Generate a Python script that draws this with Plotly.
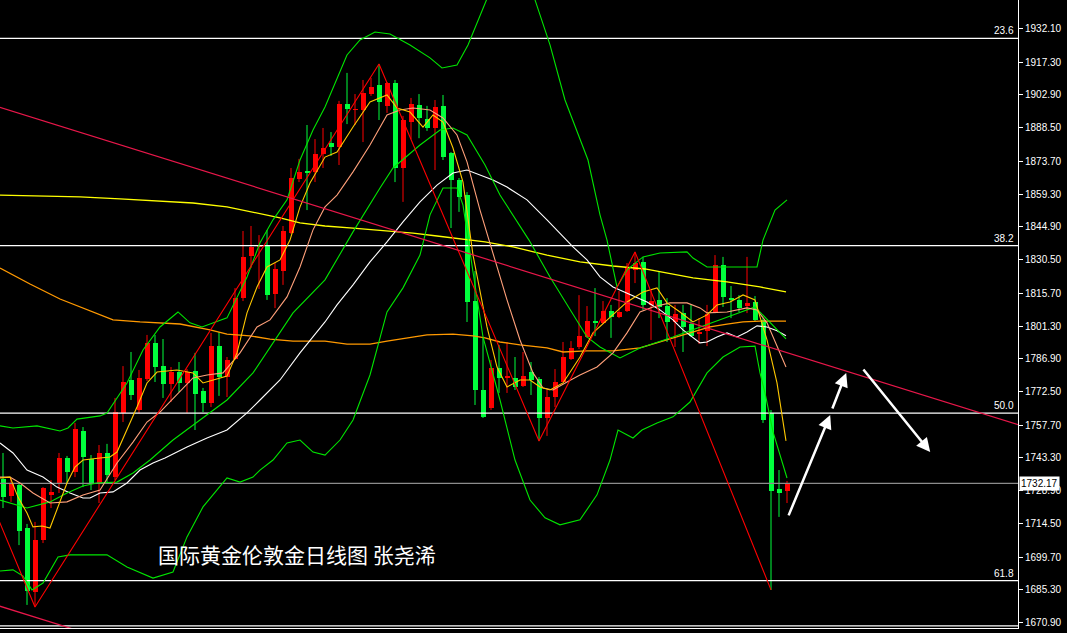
import plotly.graph_objects as go

# ---------------- candle data (daily gold, 99 bars) ----------------
opens = [1734.1, 1726.6, 1731.4, 1712.5, 1684.4, 1707.2, 1727.0, 1732.3, 1743.3, 1737.1,
         1755.2, 1742.9, 1732.3, 1745.5, 1734.9, 1763.1, 1777.6, 1764.4, 1778.0, 1793.9,
         1783.7, 1775.8, 1781.1, 1776.3, 1781.5, 1772.8, 1767.5, 1792.5, 1778.9, 1786.8,
         1813.6, 1832.1, 1836.1, 1836.5, 1815.4, 1825.5, 1842.2, 1866.0, 1869.5, 1869.0,
         1876.9, 1881.8, 1880.0, 1898.9, 1896.3, 1896.3, 1903.3, 1907.3, 1898.1, 1908.2,
         1870.8, 1891.0, 1898.5, 1892.3, 1888.4, 1898.1, 1877.4, 1865.5, 1858.9, 1812.3,
         1773.2, 1765.3, 1782.9, 1778.5, 1778.5, 1774.9, 1781.1, 1778.0, 1760.9, 1770.1,
         1776.7, 1786.8, 1792.1, 1796.5, 1803.1, 1802.7, 1807.9, 1805.3, 1807.9, 1825.9,
         1829.5, 1810.6, 1812.8, 1810.1, 1803.1, 1807.0, 1802.2, 1797.8, 1799.1, 1807.5,
         1828.1, 1813.6, 1812.8, 1810.1, 1811.9, 1803.9, 1763.1, 1729.7, 1728.8]
highs = [1745.5, 1734.5, 1732.7, 1714.3, 1715.2, 1730.5, 1733.6, 1745.5, 1744.2, 1758.7,
         1756.9, 1744.6, 1749.0, 1749.5, 1769.7, 1783.7, 1789.9, 1782.0, 1797.4, 1797.4,
         1795.6, 1783.3, 1785.5, 1782.4, 1789.5, 1774.1, 1798.3, 1798.7, 1787.7, 1818.0,
         1843.1, 1845.3, 1841.3, 1843.5, 1829.0, 1845.3, 1870.8, 1874.8, 1889.7, 1883.5,
         1888.4, 1886.6, 1900.3, 1912.6, 1903.3, 1909.5, 1910.4, 1916.5, 1908.6, 1909.5,
         1893.7, 1901.6, 1903.3, 1898.1, 1900.7, 1902.9, 1877.8, 1866.4, 1860.2, 1825.5,
         1796.5, 1786.4, 1793.0, 1794.3, 1787.7, 1789.9, 1785.5, 1778.9, 1773.2, 1782.4,
         1794.3, 1794.7, 1814.9, 1810.1, 1818.0, 1812.3, 1810.6, 1816.7, 1829.0, 1833.9,
         1831.7, 1817.2, 1825.1, 1813.6, 1810.6, 1810.6, 1810.6, 1804.8, 1810.6, 1832.5,
         1831.7, 1818.9, 1814.9, 1831.7, 1814.5, 1804.8, 1764.4, 1738.0, 1733.2]
lows = [1721.3, 1724.0, 1705.0, 1678.7, 1677.8, 1705.9, 1721.3, 1727.9, 1732.3, 1734.9,
        1730.5, 1729.2, 1723.5, 1732.3, 1733.6, 1759.1, 1768.8, 1763.1, 1777.1, 1776.7,
        1769.7, 1767.9, 1772.3, 1763.1, 1755.6, 1763.5, 1765.7, 1770.6, 1770.1, 1786.4,
        1812.3, 1826.8, 1817.6, 1812.8, 1809.2, 1819.4, 1841.8, 1864.6, 1852.3, 1864.6,
        1870.8, 1876.1, 1872.1, 1890.1, 1889.7, 1882.2, 1902.5, 1891.9, 1895.0, 1864.6,
        1855.9, 1883.5, 1883.9, 1887.1, 1869.9, 1874.3, 1844.4, 1851.5, 1803.1, 1766.6,
        1760.9, 1764.4, 1771.9, 1771.9, 1773.2, 1774.5, 1771.0, 1750.8, 1753.0, 1765.7,
        1776.7, 1786.4, 1791.2, 1796.1, 1796.9, 1802.2, 1796.1, 1804.8, 1807.5, 1820.2,
        1808.4, 1795.2, 1804.8, 1794.3, 1792.1, 1789.9, 1796.5, 1793.4, 1792.5, 1807.0,
        1809.7, 1804.8, 1807.5, 1807.0, 1803.5, 1758.7, 1685.3, 1717.4, 1723.5]
closes = [1726.1, 1732.3, 1711.2, 1684.8, 1707.2, 1730.1, 1728.3, 1743.3, 1737.1, 1756.0,
          1743.7, 1732.3, 1745.5, 1735.8, 1763.5, 1776.7, 1771.0, 1778.5, 1793.9, 1783.3,
          1775.8, 1781.1, 1776.3, 1781.1, 1771.4, 1767.5, 1792.5, 1778.9, 1786.4, 1813.6,
          1831.7, 1836.1, 1836.9, 1815.0, 1826.4, 1843.1, 1866.4, 1869.0, 1868.6, 1876.9,
          1879.6, 1880.0, 1898.9, 1896.7, 1896.7, 1903.8, 1906.4, 1899.8, 1908.2, 1870.8,
          1891.9, 1898.9, 1892.8, 1888.4, 1897.6, 1875.6, 1865.5, 1858.0, 1811.9, 1773.2,
          1761.3, 1782.9, 1778.5, 1779.3, 1774.5, 1779.3, 1777.6, 1760.9, 1770.1, 1776.7,
          1787.7, 1791.7, 1796.9, 1803.5, 1802.7, 1807.9, 1805.3, 1807.5, 1826.8, 1829.0,
          1810.6, 1812.3, 1809.7, 1803.1, 1806.6, 1800.9, 1796.9, 1798.7, 1806.6, 1828.1,
          1814.1, 1812.8, 1809.2, 1811.4, 1803.9, 1760.0, 1728.8, 1727.9, 1732.17]

# ---------------- indicator lines (bar index, price) ----------------
bb_up_idx = [-0.375, 1.25, 4.25, 7.125, 8.125, 9.25, 12.125, 13, 15.5, 17.5, 19.625, 21.875, 23.375, 24.875,
             28, 30.5, 32.125, 33.75, 35.5, 37.125, 38.75, 40.25, 43, 44.625, 46.5, 48.375, 50.875, 53.375,
             54.875, 56.75, 58.125, 59.375, 60.875, 62.75, 64.625, 66.5, 68.375, 70.25, 73.125, 74.625, 75.5,
             76.75, 78, 80, 82.125, 85.5, 86.25, 88, 94.25, 95, 96.5, 98]
bb_up_val = [1757.4, 1756.5, 1757.4, 1755.2, 1756.5, 1760.4, 1761.8, 1763.1, 1776.3, 1790.8, 1800.9, 1807.5,
             1802.7, 1800.9, 1804.9, 1822.9, 1837.9, 1848.0, 1856.8, 1874.3, 1887.5, 1897.6, 1920.5, 1927.1,
             1930.6, 1929.7, 1924.9, 1919.2, 1914.8, 1916.1, 1924.9, 1935.9, 1949.1, 1964.5, 1962.3, 1944.7,
             1924.9, 1900.7, 1874.3, 1850.2, 1839.1, 1818.5, 1826.0, 1831.7, 1833.4, 1833.9, 1831.2, 1827.3,
             1827.3, 1839.1, 1852.3, 1856.8]
bb_mid_idx = [-0.375, 3, 5.875, 8, 10, 11.75, 14.25, 16.25, 18.375, 21.25, 24.625, 28, 31.25, 33.75, 36.25,
              40.25, 43.75, 47.125, 48.75, 52.125, 54.625, 56.25, 58, 60.25, 62.125, 65.75, 68.375, 73,
              74.625, 77.125, 79.625, 83.75, 88, 91.25, 94, 96.25, 97.875]
bb_mid_val = [1724.8, 1721.3, 1724.0, 1727.9, 1731.0, 1732.3, 1732.7, 1736.7, 1742.4, 1751.2, 1760.0, 1768.8,
              1780.7, 1793.9, 1807.1, 1821.6, 1842.7, 1862.0, 1870.8, 1880.9, 1887.5, 1888.4, 1885.3, 1872.1,
              1858.9, 1839.1, 1822.9, 1796.5, 1792.1, 1787.3, 1791.7, 1796.5, 1801.8, 1806.2, 1809.7, 1801.8,
              1795.7]
bb_low_idx = [-0.375, 1.25, 2.5, 3.625, 5, 6.875, 8.375, 13, 15.5, 18.75, 21.25, 23, 25, 28, 29.625, 31.25,
              32.125, 33.75, 35.5, 37.125, 38.75, 40.25, 42.125, 43.75, 45.875, 48, 50, 52.125, 53.375, 55,
              56.75, 57.5, 58.75, 60, 62.125, 64, 65.875, 67.75, 69.625, 72.125, 74.25, 75.875, 76.875,
              78.75, 79.875, 81.75, 83.75, 85.875, 88, 90, 92.125, 94, 94.625, 95.25, 96.25, 98]
bb_low_val = [1693.6, 1694.1, 1691.4, 1685.3, 1688.3, 1699.8, 1700.7, 1700.7, 1695.4, 1690.5, 1693.2, 1708.6,
              1721.8, 1734.5, 1732.7, 1734.9, 1738.0, 1742.4, 1749.9, 1751.2, 1745.9, 1744.6, 1751.2, 1760.0,
              1779.8, 1807.5, 1818.1, 1832.5, 1850.2, 1862.0, 1862.0, 1854.5, 1825.1, 1796.5, 1768.8, 1742.4,
              1724.8, 1717.0, 1713.9, 1716.1, 1727.1, 1742.4, 1755.6, 1752.1, 1755.6, 1758.7, 1761.4, 1767.9,
              1780.7, 1787.7, 1792.1, 1792.5, 1780.7, 1771.9, 1754.8, 1734.5]
ma5_idx = [-0.375, 0.875, 1.875, 3, 3.75, 4.875, 5.875, 6.875, 8, 9, 10, 12.125, 13.375, 14.25, 15.5, 16.75,
           18, 19.25, 21.75, 23.75, 25, 28, 29.25, 30.5, 31.75, 33, 34.625, 35.875, 37.125, 38.375, 40.25,
           41.75, 43.75, 45.875, 48, 49.25, 50.875, 52.5, 53.75, 55, 56.25, 57.5, 58.75, 60.5, 61.75, 63,
           64.625, 65.875, 67.125, 68.375, 70, 72.125, 73.75, 75.875, 78, 80, 81.75, 83, 84.625, 86.25, 88,
           89.25, 90.875, 92.5, 94, 94.625, 95.5, 96.75, 97.875]
ma5_val = [1734.5, 1734.9, 1726.1, 1719.1, 1713.0, 1713.4, 1712.5, 1721.8, 1732.3, 1739.3, 1742.4, 1743.3,
           1743.7, 1745.9, 1755.6, 1765.7, 1776.3, 1781.1, 1782.0, 1780.7, 1776.3, 1779.3, 1789.5, 1807.1,
           1818.5, 1827.3, 1830.4, 1839.1, 1853.7, 1864.2, 1875.6, 1877.8, 1888.8, 1899.8, 1902.9, 1897.2,
           1895.4, 1888.8, 1894.1, 1891.0, 1879.6, 1864.6, 1832.5, 1800.9, 1783.3, 1774.5, 1777.6, 1777.6,
           1774.5, 1773.2, 1776.3, 1787.7, 1798.3, 1805.3, 1811.9, 1816.3, 1818.1, 1811.5, 1807.5, 1803.1,
           1806.2, 1810.6, 1811.9, 1815.0, 1812.8, 1805.3, 1795.2, 1776.3, 1750.8]
ma10_idx = [-0.375, 0.875, 2.125, 3.75, 5.875, 8, 10, 12.125, 14.25, 16.25, 18, 19.625, 23.75, 25.5, 27.5,
            29.625, 31.75, 33.375, 35.5, 37.125, 38.75, 40.25, 41.75, 43.75, 45.875, 48, 49.625, 51.25,
            53.375, 55, 56.75, 58, 59.625, 61.25, 63, 64.625, 66.25, 67.5, 68.75, 70.5, 72.125, 74.25,
            76.25, 78, 79.625, 81.25, 83.375, 85.5, 87.125, 88, 90.5, 93, 94.25, 95.5, 96.75, 97.875]
ma10_val = [1734.9, 1734.9, 1732.3, 1727.9, 1723.5, 1724.0, 1727.0, 1729.2, 1741.1, 1750.3, 1759.1, 1763.5,
            1778.5, 1779.8, 1780.7, 1789.5, 1800.9, 1804.0, 1814.1, 1827.3, 1843.6, 1853.7, 1858.9, 1869.1,
            1880.9, 1894.1, 1896.3, 1897.2, 1896.3, 1892.8, 1885.3, 1873.5, 1852.3, 1833.4, 1812.8, 1795.2,
            1780.7, 1774.1, 1773.2, 1776.7, 1779.8, 1783.3, 1789.5, 1798.3, 1807.5, 1809.7, 1811.5, 1811.5,
            1809.3, 1807.1, 1807.5, 1809.3, 1808.4, 1802.7, 1792.1, 1783.3]
ma_w_idx = [-0.375, 1.25, 3, 5, 6.75, 8.375, 10, 10.875, 12.125, 13.75, 15.5, 17.125, 18.75, 20.25, 23, 25.5,
            28, 30.5, 32.125, 34.625, 37.125, 40.25, 41.75, 43.75, 45.875, 48, 50, 52.125, 54.25, 56.25, 58,
            59.625, 61.25, 63, 65.5, 68, 69.625, 71.25, 73, 74.625, 76.25, 78, 80.5, 82.125, 83.75, 85,
            86.25, 87.125, 88, 89.25, 90.5, 91.75, 93, 94.25, 95.5, 96.75, 97.875]
ma_w_val = [1749.9, 1745.5, 1738.0, 1734.9, 1730.5, 1727.9, 1725.7, 1725.7, 1727.9, 1728.4, 1732.3, 1738.0,
            1741.1, 1743.3, 1748.1, 1752.1, 1755.6, 1763.1, 1768.8, 1777.6, 1789.5, 1803.1, 1810.6, 1819.4,
            1829.5, 1838.3, 1847.1, 1855.9, 1863.3, 1868.6, 1869.9, 1867.7, 1865.5, 1862.4, 1856.8, 1848.0,
            1842.2, 1836.1, 1830.4, 1822.9, 1818.5, 1815.8, 1811.9, 1808.4, 1804.0, 1799.6, 1796.1, 1793.9,
            1794.3, 1796.5, 1798.3, 1796.5, 1798.7, 1801.4, 1800.9, 1799.2, 1797.0]
ma_o_idx = [-0.375, 3.375, 7.125, 10.875, 13.75, 17.125, 19.625, 22.125, 25.875, 28, 30.875, 33.375, 36.25,
            40.25, 43, 45.875, 48, 50.5, 53, 56.25, 58.75, 60.25, 62.125, 64.625, 68, 70, 73, 76.25, 79.625,
            82.125, 84.25, 86.25, 88.375, 90.5, 92.5, 94.625, 97.875]
ma_o_val = [1826.8, 1819.8, 1813.2, 1807.9, 1804.0, 1803.1, 1802.7, 1802.2, 1799.6, 1797.8, 1797.0, 1795.6,
            1794.7, 1794.7, 1793.4, 1793.4, 1794.7, 1796.1, 1797.4, 1797.8, 1797.0, 1796.1, 1794.3, 1793.0,
            1791.7, 1789.9, 1790.4, 1790.4, 1791.7, 1794.3, 1796.5, 1798.7, 1800.9, 1802.2, 1803.1, 1803.5,
            1803.5]
ma_y_idx = [-0.375, 4.625, 9.625, 14.625, 19.625, 23.75, 28, 31.25, 34.625, 37.125, 40.25, 43.75, 48, 51.25,
            54.25, 57.125, 60.25, 63.75, 68, 72.125, 76.25, 80.25, 86.25, 90.5, 94.625, 97.875]
ma_y_val = [1858.9, 1858.5, 1858.1, 1857.2, 1856.3, 1855.4, 1853.7, 1851.5, 1848.9, 1846.7, 1845.3, 1844.4,
            1843.1, 1842.2, 1840.9, 1839.6, 1838.3, 1836.1, 1832.5, 1829.5, 1827.7, 1826.4, 1822.5, 1820.7,
            1818.5, 1816.3]

# zigzag swing points
zz_idx = [-6, 4, 47, 67, 79, 96]
zz_val = [1762.1, 1677.8, 1916.5, 1750.8, 1833.9, 1685.3]

# drawn trend channel (two anchor points each)
trend_idx = [-1, 127]
trend_upper = [1898.1, 1757.8]
trend_lower = [1678.8, 1538.5]

# fibonacci levels, bottom guide level and last price
fib_labels = ["23.6", "38.2", "50.0", "61.8"]
fib_levels = [1927.8, 1836.7, 1763.0, 1689.4]
bottom_level = 1669.5
last_price = 1732.17

# axis ticks
tick_vals = [1670.90, 1685.30, 1699.70, 1714.50, 1728.90, 1743.30, 1757.70, 1772.50, 1786.90, 1801.30,
             1815.70, 1830.50, 1844.90, 1859.30, 1873.70, 1888.50, 1902.90, 1917.30, 1932.10]

# forecast arrows (tail -> head)
arrow_tail_idx = [98.125, 103.6, 107.4]
arrow_tail_val = [1717.4, 1764.4, 1782.9]
arrow_head_idx = [103.4, 105.4, 115.9]
arrow_head_val = [1762.2, 1780.7, 1745.9]

title_text = "国际黄金伦敦金日线图 张尧浠"
title_idx, title_val = 36.8, 1701.1

# ---------------- figure ----------------
RED = "#FF0000"
GREEN = "#00FF3C"
n = len(opens)
idx = list(range(n))
up = [closes[i] >= opens[i] for i in idx]

fig = go.Figure()

# wicks
for flag, col in ((True, RED), (False, GREEN)):
    wx, wy = [], []
    for i in idx:
        if up[i] == flag:
            wx += [i, i, None]
            wy += [lows[i], highs[i], None]
    fig.add_trace(go.Scatter(x=wx, y=wy, mode="lines", line=dict(color=col, width=1),
                             hoverinfo="skip", showlegend=False))

# bodies
fig.add_trace(go.Bar(x=idx, base=opens, y=[closes[i] - opens[i] for i in idx], width=0.625,
                     marker=dict(color=[RED if u else GREEN for u in up], line=dict(width=0)),
                     showlegend=False, hoverinfo="skip"))

def line(xs, ys, color, width=1):
    fig.add_trace(go.Scatter(x=xs, y=ys, mode="lines", line=dict(color=color, width=width),
                             hoverinfo="skip", showlegend=False))

# horizontal levels
for lv in fib_levels:
    line([-1, 127], [lv, lv], "#FFFFFF", 1.3)
line([-1, 127], [bottom_level, bottom_level], "#FFFFFF", 1.2)
line([-1, 127], [last_price, last_price], "#8C8C8C", 1.3)

# indicators
line(ma_y_idx, ma_y_val, "#FFFF00", 1.3)
line(ma_o_idx, ma_o_val, "#FF9900", 1.3)
line(ma_w_idx, ma_w_val, "#FFFFFF", 1.1)
line(bb_up_idx, bb_up_val, "#00E600", 1.1)
line(bb_mid_idx, bb_mid_val, "#00E600", 1.1)
line(bb_low_idx, bb_low_val, "#00E600", 1.1)
line(ma10_idx, ma10_val, "#FFA07A", 1.1)
line(ma5_idx, ma5_val, "#FFC800", 1.1)
line(zz_idx, zz_val, "#FF0000", 1.1)
line(trend_idx, trend_upper, "#E8174A", 1.2)
line(trend_idx, trend_lower, "#E8174A", 1.2)

ann = []
for lab, lv in zip(fib_labels, fib_levels):
    ann.append(dict(xref="paper", yref="y", x=1, y=lv, xanchor="right", yanchor="bottom", xshift=-2,
                    text=lab, showarrow=False, font=dict(family="Liberation Sans", size=10, color="white")))
ann.append(dict(xref="paper", yref="y", x=1, y=last_price, xanchor="left", yanchor="middle", xshift=1,
                text=f"{last_price:.2f}", showarrow=False, bgcolor="white", borderpad=1,
                font=dict(family="Liberation Sans", size=10, color="black")))
for tx, ty, hx, hy in zip(arrow_tail_idx, arrow_tail_val, arrow_head_idx, arrow_head_val):
    ann.append(dict(xref="x", yref="y", axref="x", ayref="y", x=hx, y=hy, ax=tx, ay=ty, text="",
                    showarrow=True, arrowhead=2, arrowsize=1.1, arrowwidth=2.5, arrowcolor="white"))
ann.append(dict(xref="x", yref="y", x=title_idx, y=title_val, text=title_text, showarrow=False,
                font=dict(family="Noto Sans CJK SC", size=21, color="white")))

fig.update_layout(
    width=1067, height=633,
    margin=dict(l=0, r=49, t=0, b=5),
    paper_bgcolor="black", plot_bgcolor="black",
    showlegend=False, bargap=0,
    annotations=ann,
    xaxis=dict(range=[-0.375, 126.875], showgrid=False, zeroline=False, showticklabels=False,
               ticks="", showline=True, linecolor="white", linewidth=1, fixedrange=True),
    yaxis=dict(range=[1668.55, 1944.66], side="right", showgrid=False, zeroline=False,
               tickvals=tick_vals, ticktext=[f"{v:.2f}" for v in tick_vals],
               ticks="outside", ticklen=4, tickcolor="white", showline=True, linecolor="white",
               linewidth=1, tickfont=dict(family="Liberation Sans", size=10, color="white"),
               fixedrange=True),
)

fig.write_html("out.html", config={"displayModeBar": False},
               post_script="document.body.style.margin='0';document.body.style.padding='0';"
                           "document.body.style.background='black';")
